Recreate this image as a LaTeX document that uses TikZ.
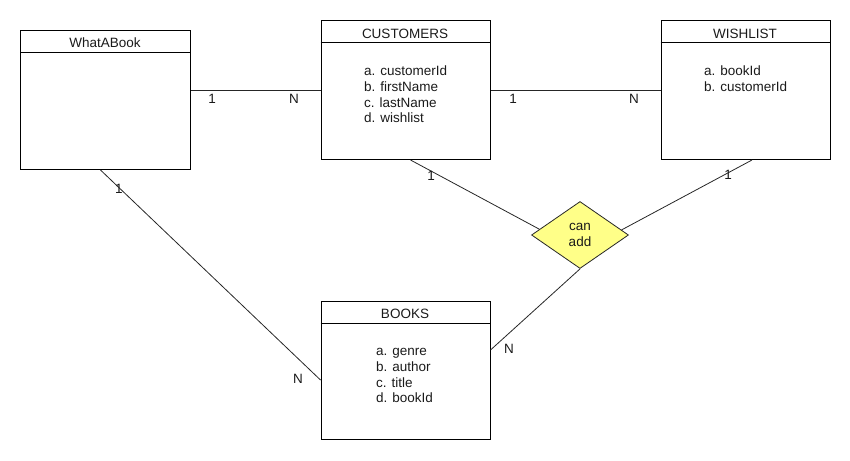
\documentclass[tikz,border=0pt]{standalone}
\usepackage{fontspec}
\setmainfont{Liberation Sans}
\usetikzlibrary{shapes.geometric,calc}
\definecolor{relfill}{HTML}{FFFF88}
\definecolor{ink}{HTML}{1A1A1A}
\begin{document}
\begin{tikzpicture}[x=1pt,y=-1pt,
  every node/.style={font=\fontsize{13.5}{15.7}\selectfont, text=ink},
  entity/.style={draw=black, line width=1pt, rectangle, anchor=north west, inner sep=0pt, minimum width=169pt, minimum height=139pt},
  hdrline/.style={draw=black, line width=1pt},
  title/.style={anchor=base, inner sep=0pt},
  attr/.style={anchor=base west, inner sep=0pt},
  rel/.style={diamond, draw=black!85, line width=0.8pt, fill=relfill, minimum width=97pt, minimum height=67pt, inner sep=0pt, align=center, aspect=1.45},
  conn/.style={draw=black!85, line width=0.8pt},
  lab/.style={inner sep=0pt, anchor=center}
]
\useasboundingbox (0,0) rectangle (850,460);

% entities
\node[entity, minimum width=170pt] (wab) at (20,30) {};
\node[entity] (cust) at (320.5,20) {};
\node[entity] (wish) at (660.5,20) {};
\node[entity, minimum height=138pt] (books) at (320.5,300.5) {};

% header lines
\draw[hdrline] ([yshift=-23pt]wab.north west) -- ([yshift=-23pt]wab.north east);
\draw[hdrline] ([yshift=-23pt]cust.north west) -- ([yshift=-23pt]cust.north east);
\draw[hdrline] ([yshift=-23pt]wish.north west) -- ([yshift=-23pt]wish.north east);
\draw[hdrline] ([yshift=-23pt]books.north west) -- ([yshift=-23pt]books.north east);

% titles
\node[title] (wabt) at (105,47.7) {WhatABook};
\node[title] (custt) at (405,38.3) {CUSTOMERS};
\node[title] (wisht) at (745,38.3) {WISHLIST};
\node[title] (bookst) at (405,318.3) {BOOKS};

% attributes
\node[attr] (custa) at (364,75.7) {\begin{tabular}[t]{@{}l@{}}a. customerId\\b. firstName\\c. lastName\\d. wishlist\end{tabular}};
\node[attr] (wisha) at (704,75.7) {\begin{tabular}[t]{@{}l@{}}a. bookId\\b. customerId\end{tabular}};
\node[attr] (booksa) at (376,355.7) {\begin{tabular}[t]{@{}l@{}}a. genre\\b. author\\c. title\\d. bookId\end{tabular}};

% relationship
\node[rel] (dia) at (580,235) {can\\add};

% connectors
\draw[conn] (cust.west -| wab.east) -- (cust.west);
\draw[conn] (cust.east) -- (wish.west);
\draw[conn] ([xshift=5pt]cust.south) -- ($(dia.west)!0.17!(dia.north)$);
\draw[conn] ([xshift=6.5pt]wish.south) -- ($(dia.east)!0.15!(dia.north)$);
\draw[conn] (dia.south) -- ([yshift=20pt]books.east);
\draw[conn] ([xshift=-5pt]wab.south) -- ([yshift=-10pt]books.west);

% cardinalities
\node[lab] (l1) at (212,99) {1};
\node[lab] (l2) at (294,99) {N};
\node[lab] (l3) at (513,99) {1};
\node[lab] (l4) at (634,99) {N};
\node[lab] (l5) at (431,176) {1};
\node[lab] (l6) at (728,175) {1};
\node[lab] (l7) at (509,349) {N};
\node[lab] (l8) at (119,189) {1};
\node[lab] (l9) at (298,379) {N};
\end{tikzpicture}
\end{document}
